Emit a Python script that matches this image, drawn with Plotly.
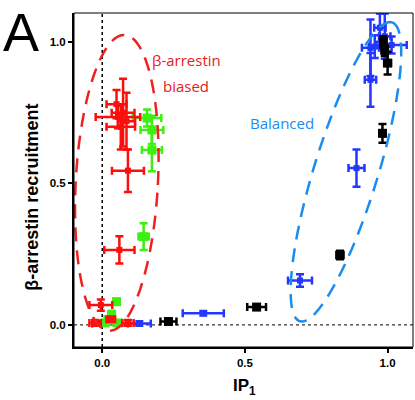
import numpy as np
import plotly.graph_objects as go

# ---- data (IP1 vs beta-arrestin recruitment) ----
red_x = [0.055, 0.073, 0.050, 0.065, 0.085, 0.090, 0.060, -0.005, -0.025, 0.090, 0.030]
red_y = [0.735, 0.750, 0.780, 0.700, 0.720, 0.545, 0.265, 0.070, 0.007, 0.007, 0.020]
red_ex = [0.078, 0.040, 0.035, 0.050, 0.030, 0.056, 0.053, 0.040, 0.020, 0.020, 0.015]
red_ey = [0.040, 0.120, 0.050, 0.080, 0.100, 0.075, 0.048, 0.020, 0.010, 0.010, 0.010]

green_x = [0.157, 0.174, 0.174, 0.145, 0.050, 0.033, 0.020, 0.055, 0.010]
green_y = [0.731, 0.689, 0.618, 0.312, 0.082, 0.035, 0.018, 0.007, 0.007]
green_ex = [0.050, 0.040, 0.035, 0.018, 0.010, 0.010, 0.010, 0.015, 0.010]
green_ey = [0.030, 0.050, 0.075, 0.047, 0.010, 0.015, 0.010, 0.008, 0.008]

blue_x = [-0.020, 0.130, 0.354, 0.693, 0.891, 0.940, 0.940, 0.990, 1.014, 0.973, 0.955]
blue_y = [0.005, 0.005, 0.041, 0.157, 0.554, 0.866, 0.979, 1.020, 0.989, 1.050, 0.983]
blue_ex = [0.015, 0.040, 0.072, 0.042, 0.028, 0.020, 0.030, 0.020, 0.053, 0.020, 0.020]
blue_ey = [0.008, 0.008, 0.008, 0.022, 0.066, 0.095, 0.100, 0.080, 0.030, 0.050, 0.040]

black_x = [0.232, 0.541, 0.833, 0.982, 1.000, 0.990, 0.985]
black_y = [0.012, 0.063, 0.247, 0.677, 0.925, 0.970, 1.000]
black_ex = [0.028, 0.033, 0.012, 0.010, 0.012, 0.010, 0.010]
black_ey = [0.008, 0.008, 0.015, 0.033, 0.040, 0.020, 0.020]

x_ticks = [0.0, 0.5, 1.0]
x_tick_labels = ["0.0", "0.5", "1.0"]
y_ticks = [0.0, 0.5, 1.0]
y_tick_labels = ["0.0", "0.5", "1.0"]

# ellipse annotation parameters: center x, center y, semi-axis a, semi-axis b, angle (deg)
red_ellipse = dict(cx=0.051, cy=0.502, a=0.144, b=0.523, ang=-3)
blue_ellipse = dict(cx=0.854, cy=0.541, a=0.552, b=0.112, ang=73)

RED = "#ff0d0d"
GREEN = "#3cf00f"
BLUE = "#2237ff"
BLACK = "#000000"


def ellipse_path(cx, cy, a, b, ang):
    t = np.linspace(0, 2 * np.pi, 200)
    th = np.deg2rad(ang)
    ex = a * np.cos(t)
    ey = b * np.sin(t)
    xs = cx + ex * np.cos(th) - ey * np.sin(th)
    ys = cy + ex * np.sin(th) + ey * np.cos(th)
    return "M " + " L ".join(f"{x:.4f},{y:.4f}" for x, y in zip(xs, ys)) + " Z"


fig = go.Figure()


def add_series(xs, ys, exs, eys, color, msize):
    fig.add_trace(go.Scatter(
        x=xs, y=ys, mode="markers",
        marker=dict(symbol="square", size=msize, color=color),
        error_x=dict(type="data", array=exs, color=color, thickness=2.5, width=4),
        error_y=dict(type="data", array=eys, color=color, thickness=2.5, width=4),
        showlegend=False, hoverinfo="skip",
    ))


add_series(blue_x, blue_y, blue_ex, blue_ey, BLUE, 6)
add_series(black_x, black_y, black_ex, black_ey, BLACK, 9)
add_series(green_x, green_y, green_ex, green_ey, GREEN, 9)
add_series(red_x, red_y, red_ex, red_ey, RED, 6)

shapes = [
    dict(type="line", xref="x", yref="paper", x0=0, x1=0, y0=0, y1=1,
         line=dict(color="black", width=1.5, dash="dot"), layer="below"),
    dict(type="line", xref="paper", yref="y", x0=0, x1=1, y0=0, y1=0,
         line=dict(color="black", width=1, dash="dot"), layer="below"),
    dict(type="path", xref="x", yref="y", path=ellipse_path(**red_ellipse),
         line=dict(color="#ee2020", width=2.5, dash="14px,9px")),
    dict(type="path", xref="x", yref="y", path=ellipse_path(**blue_ellipse),
         line=dict(color="#1a8cf0", width=2.5, dash="14px,9px")),
    dict(type="rect", xref="paper", yref="paper", x0=0, x1=1, y0=0, y1=1,
         line=dict(color="black", width=1)),
]

annotations = [
    dict(text="A", xref="paper", yref="paper", x=-0.215, y=1.04, xanchor="left", yanchor="top",
         showarrow=False, font=dict(family="Liberation Sans", size=54, color="black")),
    dict(text="β-arrestin", xref="x", yref="y", x=0.295, y=0.935, showarrow=False,
         font=dict(family="Open Sans", size=15, color="#e82020")),
    dict(text="biased", xref="x", yref="y", x=0.295, y=0.845, showarrow=False,
         font=dict(family="Open Sans", size=15, color="#e82020")),
    dict(text="Balanced", xref="x", yref="y", x=0.63, y=0.715, showarrow=False,
         font=dict(family="Open Sans", size=15, color="#1a8cf0")),
    dict(text="β-arrestin recruitment", xref="paper", yref="paper", x=-0.124, y=0.45,
         xanchor="center", yanchor="middle",
         textangle=-90, showarrow=False,
         font=dict(family="Liberation Sans", size=18, color="black", weight="bold")),
    dict(text="IP<sub>1</sub>", xref="x", yref="paper", x=0.5, y=-0.08, yanchor="top",
         showarrow=False,
         font=dict(family="Liberation Sans", size=17, color="black", weight="bold")),
]

fig.update_layout(
    width=415, height=400,
    margin=dict(l=74, r=2, t=13, b=53),
    plot_bgcolor="white", paper_bgcolor="white",
    shapes=shapes, annotations=annotations,
    xaxis=dict(range=[-0.099, 1.089], tickvals=x_ticks, ticktext=x_tick_labels,
               showgrid=False, zeroline=False, showline=True, linecolor="black", linewidth=2,
               ticks="outside", ticklen=4, tickwidth=1.5, tickcolor="black",
               tickfont=dict(family="Liberation Sans", size=11.5, color="black", weight="bold")),
    yaxis=dict(range=[-0.078, 1.102], tickvals=y_ticks, ticktext=y_tick_labels,
               showgrid=False, zeroline=False, showline=True, linecolor="black", linewidth=2,
               ticks="outside", ticklen=4, tickwidth=1.5, tickcolor="black",
               tickfont=dict(family="Liberation Sans", size=11.5, color="black", weight="bold")),
)

fig.write_html("out.html", config={"displayModeBar": False},
               post_script="document.body.style.margin='0';document.body.style.overflow='hidden';")
